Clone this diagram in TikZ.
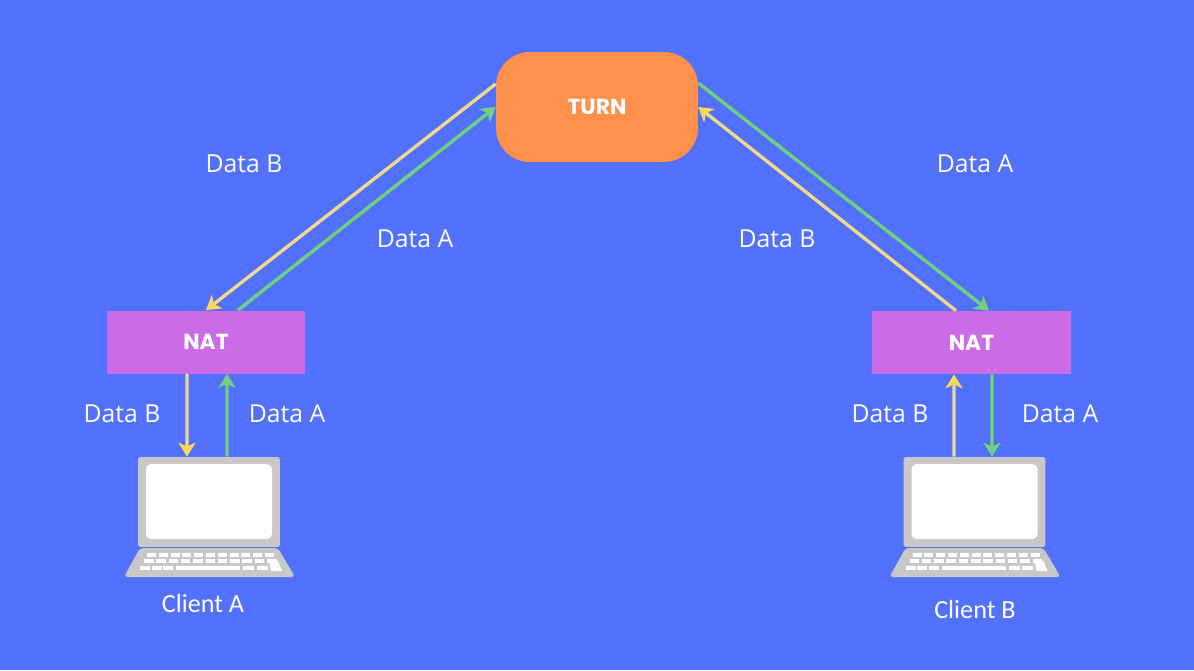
\documentclass[tikz,border=0pt]{standalone}
\usepackage{fontspec}
\setmainfont{Open Sans}
\newfontfamily\boxfont{Poppins}
\newfontfamily\clientfont{Carlito}
\usetikzlibrary{arrows.meta}
\definecolor{bgblue}{HTML}{5271FF}
\definecolor{turnorange}{HTML}{FF914D}
\definecolor{natpurple}{HTML}{CB6CE6}
\definecolor{lineyellow}{HTML}{F0D98C}
\definecolor{tipyellow}{HTML}{FFD75A}
\definecolor{linegreen}{HTML}{6FD07E}
\definecolor{lapgray}{HTML}{C8C8C8}
\tikzset{
   natbox/.style={fill=natpurple, minimum width=3.98cm, minimum height=1.26cm, inner sep=0pt, text=white, font=\boxfont\bfseries\fontsize{12.4}{14}\selectfont},
   turnbox/.style={fill=turnorange, rounded corners=0.68cm, minimum width=4.04cm, minimum height=2.2cm, inner sep=0pt, text=white, font=\boxfont\bfseries\fontsize{12.4}{14}\selectfont},
   lapbody/.style={fill=lapgray, rounded corners=0.05cm, minimum width=2.84cm, minimum height=1.8cm, inner sep=0pt},
   datalabel/.style={text=white, font=\fontsize{14.1}{17}\selectfont},
   clientlabel/.style={text=white, font=\clientfont\fontsize{14.9}{18}\selectfont},
   yellowline/.style={line width=1.9pt, lineyellow, -{Stealth[length=0.28cm, width=0.34cm, inset=0.08cm, tipyellow]}},
   greenline/.style={line width=1.9pt, linegreen, -{Stealth[length=0.28cm, width=0.34cm, inset=0.08cm, linegreen]}},
   laptop/.pic={
      % screen
      \fill[white, rounded corners=0.1cm] (-63,-38) rectangle (63,37);
      % base
      \fill[lapgray, rounded corners=0.07cm] (-69,46) -- (69,46) -- (86,75) -- (-85,75) -- cycle;
      % keyboard
      \foreach \i in {0,...,10} {
         \fill[white] (-62+\i*11.8,51) rectangle ++(9,3.5);
         \fill[white] (-65+\i*12.3,57) rectangle ++(9.5,3.5);
      }
      \foreach \i in {0,1,2} \fill[white] (-69+\i*11.5,64) rectangle ++(10,4);
      \fill[white] (-33,64) rectangle (31,68);
      \foreach \i in {0,1} \fill[white] (34+\i*13.5,64) rectangle ++(11,4);
      \fill[white] (60,59) -- (69,59) -- (73,69) -- (62,69) -- cycle;
   }
}
\begin{document}
\begin{tikzpicture}[x=0.02cm, y=-0.02cm]
   \useasboundingbox (0,0) rectangle (1194,670);
   \fill[bgblue] (0,0) rectangle (1194,670);

   \node[turnbox] (turn) at (597,107) {TURN};
   \node[natbox] (natA) at (206,342) {NAT};
   \node[natbox] (natB) at (971.5,342.5) {NAT};
   \node[lapbody] (lapA) at (209,502) {};
   \node[lapbody] (lapB) at (974.5,502) {};
   \pic at (lapA.center) {laptop};
   \pic at (lapB.center) {laptop};

   \draw[yellowline] ([yshift=0.46cm]turn.west) -- (natA.north);
   \draw[greenline] ([xshift=0.64cm]natA.north) -- (turn.west);
   \draw[greenline] ([yshift=0.48cm]turn.east) -- ([xshift=0.35cm]natB.north);
   \draw[yellowline] ([xshift=-0.31cm]natB.north) -- (turn.east);
   \draw[yellowline] ([xshift=-0.38cm]natA.south) -- ([xshift=-0.44cm]lapA.north);
   \draw[greenline] ([xshift=0.36cm]lapA.north) -- ([xshift=0.42cm]natA.south);
   \draw[yellowline] ([xshift=-0.41cm]lapB.north) -- ([xshift=-0.35cm]natB.south);
   \draw[greenline] ([xshift=0.41cm]natB.south) -- ([xshift=0.35cm]lapB.north);

   \node[datalabel] (labelBtl) at (244,163.5) {Data B};
   \node[datalabel] (labelAtl) at (415,238.5) {Data A};
   \node[datalabel] (labelAtr) at (975,163.5) {Data A};
   \node[datalabel] (labelBtr) at (777,238.5) {Data B};
   \node[datalabel] (labelBbl) at (122,413.5) {Data B};
   \node[datalabel] (labelAbl) at (287,413.5) {Data A};
   \node[datalabel] (labelBbr) at (890,413.5) {Data B};
   \node[datalabel] (labelAbr) at (1060,413.5) {Data A};
   \node[clientlabel] (clientA) at (203,603.5) {Client A};
   \node[clientlabel] (clientB) at (975,609.5) {Client B};
\end{tikzpicture}
\end{document}
